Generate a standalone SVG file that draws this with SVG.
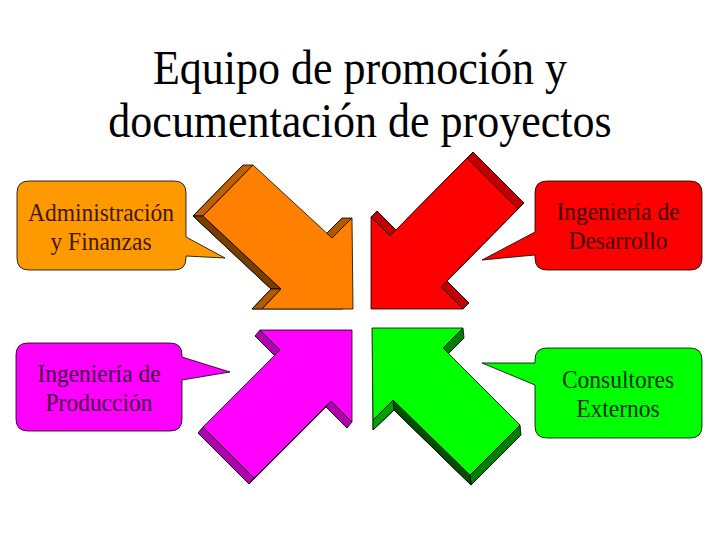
<svg xmlns="http://www.w3.org/2000/svg" width="720" height="540" viewBox="0 0 720 540">
<style>
.title{font-family:"Liberation Serif","Times New Roman",serif;font-size:44px;fill:#000;text-anchor:middle}
.lbl{font-family:"Liberation Serif","Times New Roman",serif;font-size:23.5px;text-anchor:middle}
.ol{stroke:#000;stroke-width:0.8;stroke-linejoin:miter}
</style>
<rect width="720" height="540" fill="#fff"/>
<g id="title" transform="scale(1,1.08)">
<text class="title" x="360" y="77.8">Equipo de promoción y</text>
<text class="title" x="360" y="126.9">documentación de proyectos</text>
</g>
<g id="connectors">
<g id="arrow-orange">
<polygon class="ol" fill="#7a3d00" points="243,165 322,238 342,218 343,309 252,309 271,289 193,216"/>
<polygon class="ol" fill="#c06000" points="203,216 253,165 243,165 193,216"/>
<polygon class="ol" fill="#7a3d00" points="203,216 281,289 271,289 193,216"/>
<polygon class="ol" fill="#b05a00" points="262,309 281,289 271,289 252,309"/>
<polygon class="ol" fill="#b05a00" points="332,238 352,218 342,218 322,238"/>
<polygon class="ol" fill="#ff8000" points="253,165 332,238 352,218 353,309 262,309 281,289 203,216"/>
</g>
<g id="arrow-red">
<polygon class="ol" fill="#a00000" points="377,303 377,211 396,230 473,152 524,203 447,281 469,303"/>
<polygon class="ol" fill="#c00000" points="371,217 390,236 396,230 377,211"/>
<polygon class="ol" fill="#c00000" points="467,158 518,209 524,203 473,152"/>
<polygon class="ol" fill="#c00000" points="441,287 463,309 469,303 447,281"/>
<polygon class="ol" fill="#ff0000" points="371,309 371,217 390,236 467,158 518,209 441,287 463,309"/>
</g>
<g id="arrow-magenta">
<polygon class="ol" fill="#900090" points="347,336 255,336 275,356 198,433 249,484 326,407 347,428"/>
<polygon class="ol" fill="#b000b0" points="260,330 280,350 275,356 255,336"/>
<polygon class="ol" fill="#b000b0" points="203,427 254,478 249,484 198,433"/>
<polygon class="ol" fill="#b000b0" points="331,401 352,422 347,428 326,407"/>
<polygon class="ol" fill="#ff00ff" points="352,330 260,330 280,350 203,427 254,478 331,401 352,422"/>
</g>
<g id="arrow-green">
<polygon class="ol" fill="#005000" points="373,338 464,338 444,358 521,435 471,485 394,410 373,430"/>
<polygon class="ol" fill="#008000" points="463,328 443,348 444,358 464,338"/>
<polygon class="ol" fill="#008000" points="520,425 470,475 471,485 521,435"/>
<polygon class="ol" fill="#005000" points="470,475 393,400 394,410 471,485"/>
<polygon class="ol" fill="#00a000" points="393,400 373,420 373,430 394,410"/>
<polygon class="ol" fill="#00ff00" points="372,328 463,328 443,348 520,425 470,475 393,400 373,420"/>
</g>
</g>
<g id="admin">
<path class="ol" fill="#ff9900" d="M29,181 H174 Q186,181 186,193 V237 L225,258 L186,256 V258 Q186,270 174,270 H29 Q17,270 17,258 V193 Q17,181 29,181 Z"/>
<g transform="scale(1,1.08)">
<text class="lbl" fill="#401800" x="101" y="204.6">Administración</text>
<text class="lbl" fill="#401800" x="101" y="231.5">y Finanzas</text>
</g>
</g>
<g id="desarrollo">
<path class="ol" fill="#ff0000" d="M547,181 H690 Q702,181 702,193 V258 Q702,270 690,270 H547 Q535,270 535,258 V255 L482,260 L535,232 V193 Q535,181 547,181 Z"/>
<g transform="scale(1,1.08)">
<text class="lbl" fill="#400000" x="618" y="203.7">Ingeniería de</text>
<text class="lbl" fill="#400000" x="618" y="230.6">Desarrollo</text>
</g>
</g>
<g id="produccion">
<path class="ol" fill="#ff00ff" d="M28,343 H170 Q182,343 182,355 V357 L230,372 L182,380 V419 Q182,431 170,431 H28 Q16,431 16,419 V355 Q16,343 28,343 Z"/>
<g transform="scale(1,1.08)">
<text class="lbl" fill="#400040" x="99" y="353.7">Ingeniería de</text>
<text class="lbl" fill="#400040" x="99" y="380.6">Producción</text>
</g>
</g>
<g id="consultores">
<path class="ol" fill="#00ff00" d="M547,348 H690 Q702,348 702,360 V426 Q702,438 690,438 H547 Q535,438 535,426 V385 L482,363 L535,363 V360 Q535,348 547,348 Z"/>
<g transform="scale(1,1.08)">
<text class="lbl" fill="#003000" x="618" y="359.3">Consultores</text>
<text class="lbl" fill="#003000" x="618" y="386.1">Externos</text>
</g>
</g>
</svg>
